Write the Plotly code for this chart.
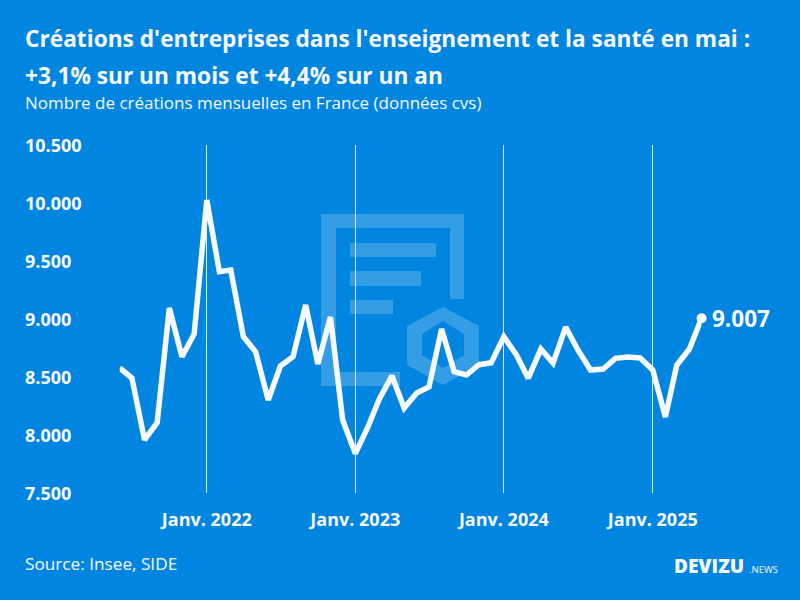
import plotly.graph_objects as go
import pandas as pd

months = pd.date_range("2021-06-01", "2025-05-01", freq="MS").strftime("%Y-%m-%d").tolist()
creations = [
    8578, 8491, 7957, 8106, 9095, 8675, 8871,
    10026, 9408, 9422, 8847, 8718, 8302, 8595, 8675, 9121, 8612, 9017, 8129,
    7840, 8069, 8310, 8510, 8232, 8362, 8414, 8914, 8546, 8517, 8606, 8623,
    8847, 8690, 8490, 8741, 8620, 8930, 8733, 8560, 8569, 8661, 8672, 8664,
    8560, 8155, 8603, 8741, 9007,
]
year_ticks = ["2022-01-01", "2023-01-01", "2024-01-01", "2025-01-01"]
year_labels = ["Janv. 2022", "Janv. 2023", "Janv. 2024", "Janv. 2025"]
y_ticks = [7500, 8000, 8500, 9000, 9500, 10000, 10500]
y_labels = ["7.500", "8.000", "8.500", "9.000", "9.500", "10.000", "10.500"]

BLUE = "#0085e0"
WHITE = "#f8f9ff"
FONT = "Open Sans"
W, H = 800, 600


# pixel helpers for everything placed on the page rather than on the axes
def px(x):
    return x / W


def py(y):
    return 1 - y / H


def poly(points):
    return "M" + " L".join(f"{px(x):.4f},{py(y):.4f}" for x, y in points) + " Z"


# Watermark behind the line: document with a hexagon
frame = [(321, 214), (464, 214), (464, 299), (450, 299), (450, 228), (336, 228),
         (336, 372), (400, 372), (400, 386), (321, 386)]
bars = [
    [(350, 243), (436, 243), (436, 257), (350, 257)],
    [(350, 271), (421, 271), (421, 286), (350, 286)],
    [(350, 300), (393, 300), (393, 314), (350, 314)],
]
hex_outer = [(443, 307), (479, 326), (479, 365), (443, 385), (407, 365), (407, 326)]
hex_inner = [(443, 321), (464, 334), (464, 355), (443, 368), (422, 355), (422, 334)]

shapes = [
    dict(type="path", path=poly(p), xref="paper", yref="paper", layer="below",
         fillcolor="rgba(255,255,255,0.2)", line=dict(width=0))
    for p in [frame] + bars
]
shapes.append(dict(type="path", path=poly(hex_outer) + " " + poly(hex_inner),
                   xref="paper", yref="paper", layer="below",
                   fillcolor="rgba(255,255,255,0.2)", line=dict(width=0)))

fig = go.Figure()
fig.add_trace(go.Scatter(
    x=months, y=creations, mode="lines", cliponaxis=False,
    line=dict(color=WHITE, width=5.5), hoverinfo="x+y",
))
fig.add_trace(go.Scatter(
    x=months[-1:], y=creations[-1:], mode="markers", cliponaxis=False,
    marker=dict(color=WHITE, size=10),
))


def note(text, x, y, size, weight="normal"):
    return dict(text=text, x=px(x - 2), y=py(y), xref="paper", yref="paper", showarrow=False,
                xanchor="left", yanchor="middle", align="left",
                font=dict(family=FONT, size=size, color=WHITE, weight=weight))


annotations = [
    note("Créations d'entreprises dans l'enseignement et la santé en mai :", 25, 38, 22.7, "bold"),
    note("+3,1% sur un mois et +4,4% sur un an", 25, 75, 22.7, "bold"),
    note("Nombre de créations mensuelles en France (données cvs)", 25, 103, 17),
    note("Source: Insee, SIDE", 25, 563, 17.2),
    note("DEVIZU", 674, 566, 19, 800),
    note(".NEWS", 749, 569, 9.5),
    dict(text="9.007", x=months[-1], y=creations[-1], xref="x", yref="y", showarrow=False,
         xanchor="left", yanchor="middle", xshift=8,
         font=dict(family=FONT, size=22.5, color=WHITE, weight="bold")),
]
# y labels sit flush left at the page edge
for val, lab in zip(y_ticks, y_labels):
    annotations.append(dict(text=lab, x=px(23), xref="paper", y=val, yref="y", showarrow=False,
                            xanchor="left", yanchor="middle",
                            font=dict(family=FONT, size=18, color=WHITE, weight="bold")))

fig.update_layout(
    width=W, height=H, autosize=False,
    margin=dict(l=0, r=0, t=0, b=0),
    paper_bgcolor=BLUE, plot_bgcolor=BLUE,
    showlegend=False,
    shapes=shapes,
    annotations=annotations,
    xaxis=dict(
        type="date",
        domain=[px(119.7), px(701.6)],
        range=[months[0], months[-1]],
        tickmode="array", tickvals=year_ticks, ticktext=year_labels,
        showgrid=True, gridcolor="rgba(255,255,255,0.85)", gridwidth=1,
        zeroline=False, showline=False,
        ticks="outside", ticklen=10, tickcolor=BLUE,
        tickfont=dict(family=FONT, size=18, color=WHITE, weight="bold"),
    ),
    yaxis=dict(
        domain=[py(493), py(145)],
        range=[7500, 10500],
        tickmode="array", tickvals=y_ticks,
        showticklabels=False,
        showgrid=False, zeroline=False, showline=False, ticks="",
    ),
)

fig.write_html("out.html", config=dict(displayModeBar=False),
               post_script="document.body.style.margin='0';")
